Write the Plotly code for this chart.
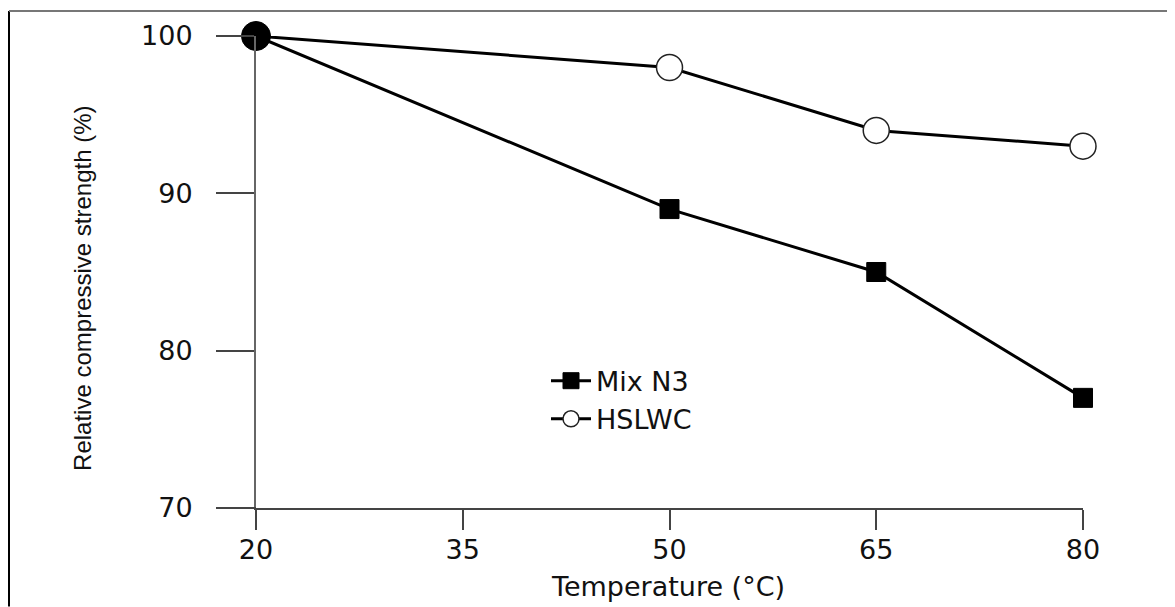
import plotly.graph_objects as go

temperature = [20, 50, 65, 80]
mix_n3 = [100, 89, 85, 77]
hslwc = [100, 98, 94, 93]
x_ticks = [20, 35, 50, 65, 80]
y_ticks = [70, 80, 90, 100]

# page body has an 8px margin; figure is sized to fill the rest of the window
OFF = 8
W, H = 1175 - OFF, 607 - OFF
L, R, T, B = 256 - OFF, 92, 34 - OFF, 99
pw, ph = W - L - R, H - T - B


def px(xs):
    return (xs - 256) / pw


def py(ys):
    return (508 - ys) / ph


fig = go.Figure()
fig.add_trace(go.Scatter(
    x=temperature, y=mix_n3, name="Mix N3", mode="lines+markers",
    line=dict(color="black", width=3),
    marker=dict(symbol="square", size=19, color="black", line=dict(color="black", width=1)),
    cliponaxis=False,
))
fig.add_trace(go.Scatter(
    x=temperature, y=hslwc, name="HSLWC", mode="lines+markers",
    line=dict(color="black", width=3),
    marker=dict(symbol="circle", size=26, color="white",
                line=dict(color="#222", width=1.5)),
    cliponaxis=False,
))
# overlapping start point shown as a solid dot
fig.add_trace(go.Scatter(
    x=temperature[:1], y=hslwc[:1], mode="markers", showlegend=False,
    marker=dict(symbol="circle", size=29, color="black", line=dict(color="black", width=1)),
    cliponaxis=False,
))

tickfont = dict(family="DejaVu Sans", size=27, color="#111")
fig.update_layout(
    width=W, height=H,
    margin=dict(l=L, r=R, t=T, b=B),
    paper_bgcolor="white", plot_bgcolor="white",
    showlegend=True,
    legend=dict(x=px(546), y=py(356), xanchor="left", yanchor="top",
                font=dict(family="DejaVu Sans", size=27, color="#111"),
                bgcolor="rgba(0,0,0,0)", itemwidth=40, tracegroupgap=0),
    xaxis=dict(range=[20, 80], tickvals=x_ticks, ticks="outside", ticklen=20,
               tickwidth=2, tickcolor="#444", showline=True, linecolor="#444",
               linewidth=2, showgrid=False, zeroline=False, tickfont=tickfont,
               ticklabelstandoff=-3),
    yaxis=dict(range=[70, 100], tickvals=y_ticks, ticks="outside", ticklen=38,
               tickwidth=2, tickcolor="#444", showline=True, linecolor="#666",
               linewidth=2, showgrid=False, zeroline=False, tickfont=tickfont,
               ticklabelstandoff=18),
    annotations=[
        dict(text="Relative compressive strength (%)", textangle=-90,
             xref="paper", yref="paper", x=px(83), y=py(288),
             showarrow=False, font=dict(family="Liberation Sans", size=24, color="#111"),
             xanchor="center", yanchor="middle"),
        dict(text="Temperature (°C)", xref="paper", yref="paper",
             x=px(668), y=py(587), showarrow=False,
             font=dict(family="DejaVu Sans", size=27, color="#111"),
             xanchor="center", yanchor="middle"),
    ],
    shapes=[
        # x-axis line extension left of y-axis
        dict(type="line", xref="paper", yref="paper", x0=px(224), x1=0,
             y0=0, y1=0, line=dict(color="#444", width=2)),
        # image frame
        dict(type="line", xref="paper", yref="paper", x0=px(9), x1=px(9),
             y0=py(9), y1=py(607), line=dict(color="black", width=2)),
        dict(type="line", xref="paper", yref="paper", x0=px(9), x1=px(1175),
             y0=py(9), y1=py(9), line=dict(color="#777", width=2)),
    ],
)

fig.write_html("out.html")
